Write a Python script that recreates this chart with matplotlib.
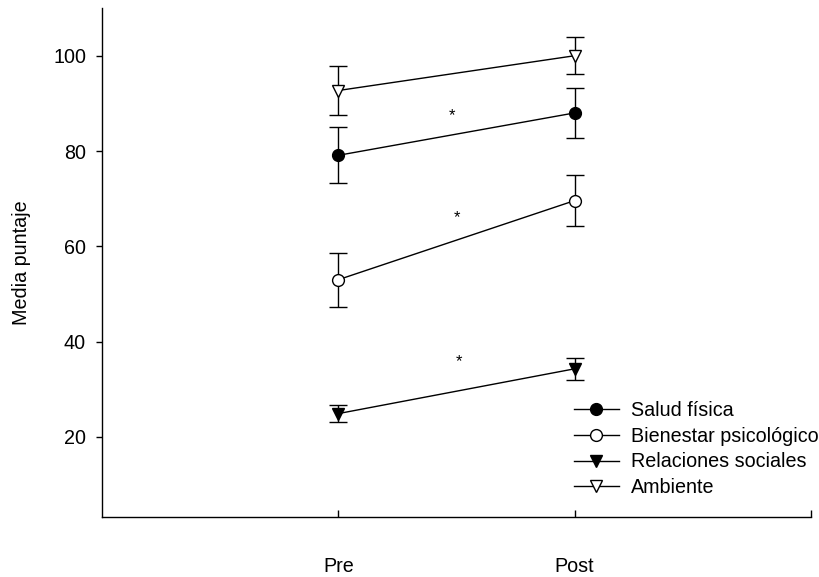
import matplotlib
matplotlib.use("Agg")

import matplotlib.pyplot as plt

plt.rcParams["font.family"] = ["Liberation Sans", "DejaVu Sans"]

moments = ["Pre", "Post"]
x_pos = [1, 2]

salud = [79.1, 88.0]
salud_err = [5.9, 5.2]
bienestar = [53.0, 69.6]
bienestar_err = [5.7, 5.3]
relaciones = [24.9, 34.3]
relaciones_err = [1.7, 2.3]
ambiente = [92.7, 100.0]
ambiente_err = [5.2, 3.9]

star_x = [1.48, 1.50, 1.51]
star_y = [87.5, 66.0, 35.8]

FS = 14.2

fig = plt.figure(figsize=(8.2, 5.77), dpi=100)
ax = fig.add_axes([0.1244, 0.104, 0.8646, 0.882])

series = [
    (salud, salud_err, "o", "black", "Salud física"),
    (bienestar, bienestar_err, "o", "white", "Bienestar psicológico"),
    (relaciones, relaciones_err, "v", "black", "Relaciones sociales"),
    (ambiente, ambiente_err, "v", "white", "Ambiente"),
]
handles = []
for vals, err, mk, fc, name in series:
    ax.errorbar(x_pos, vals, yerr=err, fmt="none", ecolor="black",
                elinewidth=1.0, capsize=6.5, capthick=1.0, zorder=2)
    h, = ax.plot(x_pos, vals, color="black", linewidth=1.0, marker=mk,
                 markersize=8.5, markerfacecolor=fc, markeredgecolor="black",
                 markeredgewidth=1.0, label=name, zorder=3)
    handles.append(h)

for sx, sy in zip(star_x, star_y):
    ax.text(sx, sy, "*", ha="center", va="center", fontsize=12)

ax.set_xlim(0, 3)
ax.set_ylim(3.2, 110)
ax.set_xticks([1, 2, 3])
ax.set_xticklabels(moments + [""])
ax.set_yticks([20, 40, 60, 80, 100])
ax.tick_params(axis="x", direction="in", length=5, width=1, pad=28.5, labelsize=FS)
ax.tick_params(axis="y", direction="out", length=4.5, width=1, pad=7, labelsize=FS)
ax.spines["top"].set_visible(False)
ax.spines["right"].set_visible(False)
for s in ["left", "bottom"]:
    ax.spines[s].set_linewidth(1.0)
ax.set_ylabel("Media puntaje", fontsize=FS, labelpad=16)

fig.legend(handles=handles, loc="upper left", bbox_to_anchor=(574 / 820, 1 - 401 / 577),
           frameon=False, fontsize=FS, handlelength=2.27, handletextpad=0.62,
           labelspacing=0.34, borderpad=0, borderaxespad=0)

fig.savefig("out.png", dpi=100)
